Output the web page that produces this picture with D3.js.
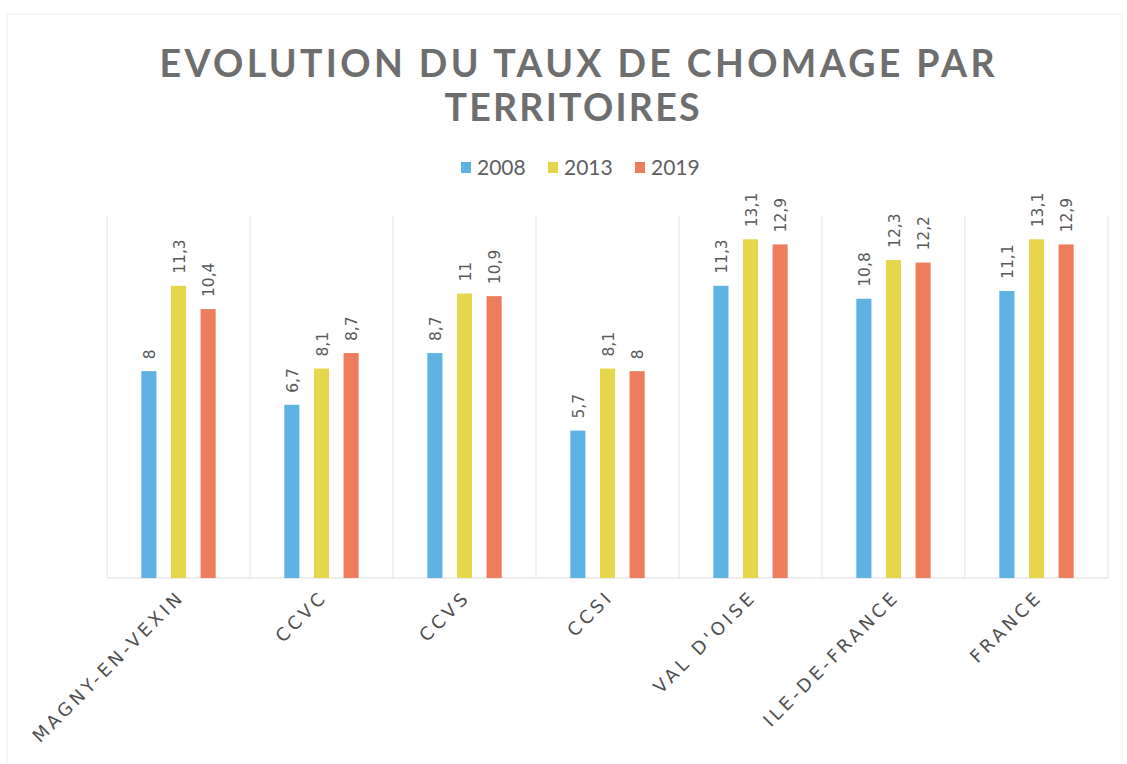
<!DOCTYPE html>
<html>
<head>
<meta charset="utf-8">
<script src="https://cdn.jsdelivr.net/npm/d3@7"></script>
<style>
  body { margin: 0; background: #fff; }
  svg { display: block; }
</style>
</head>
<body>
<div id="chart"></div>
<script>
// data
const territoires = ["MAGNY-EN-VEXIN", "CCVC", "CCVS", "CCSI", "VAL D'OISE", "ILE-DE-FRANCE", "FRANCE"];
const annees = ["2008", "2013", "2019"];
const taux2008 = [8, 6.7, 8.7, 5.7, 11.3, 10.8, 11.1];
const taux2013 = [11.3, 8.1, 11, 8.1, 13.1, 12.3, 13.1];
const taux2019 = [10.4, 8.7, 10.9, 8, 12.9, 12.2, 12.9];
const couleurs = ["#5fb3e2", "#e5d64c", "#ee7d5e"];

const W = 1127, H = 764;
const svg = d3.select("#chart").append("svg").attr("width", W).attr("height", H);

// faint frame of the scanned chart
svg.append("rect").attr("x", 7).attr("y", 14).attr("width", W - 12).attr("height", H - 10)
    .attr("fill", "none").attr("stroke", "#ececec");

let donnees = territoires.map((t, i) => ({ name: t, values: [taux2008[i], taux2013[i], taux2019[i]] }));

let x0 = d3.scaleBand().domain(territoires).range([107, 1108])
    .paddingInner(0.48).paddingOuter(0.24);
let x1 = d3.scaleBand().domain(annees).range([0, x0.bandwidth()])
    .paddingInner(0.49).paddingOuter(0);
let y = d3.scaleLinear().domain([0, 14]).range([578, 216]);
let color = d3.scaleOrdinal().domain(annees).range(couleurs);

// titre
svg.append("text")
    .attr("x", 577).attr("y", 77)
    .attr("text-anchor", "middle")
    .attr("font-family", "Lato, sans-serif").attr("font-weight", "bold")
    .attr("font-size", 37.5)
    .attr("textLength", 835).attr("lengthAdjust", "spacing")
    .attr("fill", "#6e6e6e")
    .text("EVOLUTION DU TAUX DE CHOMAGE PAR");
svg.append("text")
    .attr("x", 572).attr("y", 121)
    .attr("text-anchor", "middle")
    .attr("font-family", "Lato, sans-serif").attr("font-weight", "bold")
    .attr("font-size", 37.5)
    .attr("textLength", 255).attr("lengthAdjust", "spacing")
    .attr("fill", "#6e6e6e")
    .text("TERRITOIRES");

// legende
let leg = svg.append("g").selectAll("g").data(annees).enter().append("g")
    .attr("transform", (d, i) => "translate(" + (461 + i * 87) + ",168)");
leg.append("rect").attr("x", 0).attr("y", -6).attr("width", 10).attr("height", 11)
    .attr("fill", d => color(d));
leg.append("text").attr("x", 16).attr("y", 7)
    .attr("font-family", "Lato, sans-serif").attr("font-size", 21)
    .attr("fill", "#5f5f5f")
    .text(d => d);

// separateurs verticaux
let bords = territoires.map(t => x0(t) - x0.step() * x0.paddingInner() / 2);
bords.push(x0.range()[1]);
svg.append("g").selectAll("line").data(bords).enter().append("line")
    .attr("x1", d => d).attr("x2", d => d)
    .attr("y1", y(14)).attr("y2", y(0))
    .attr("stroke", "#e3e3e3").attr("stroke-width", 1);

// axe de base
svg.append("line")
    .attr("x1", x0.range()[0]).attr("x2", x0.range()[1])
    .attr("y1", y(0)).attr("y2", y(0))
    .attr("stroke", "#dcdcdc");

// barres
let groupes = svg.append("g").selectAll("g").data(donnees).enter().append("g")
    .attr("transform", d => "translate(" + x0(d.name) + ",0)");

groupes.selectAll("rect")
    .data(d => d.values.map((v, i) => ({ annee: annees[i], value: v })))
    .enter()
    .append("rect")
    .attr("x", d => x1(d.annee))
    .attr("y", d => y(d.value))
    .attr("width", x1.bandwidth())
    .attr("height", d => y(0) - y(d.value))
    .attr("fill", d => color(d.annee));

groupes.selectAll("text")
    .data(d => d.values.map((v, i) => ({ annee: annees[i], value: v })))
    .enter()
    .append("text")
    .attr("transform", d => "translate(" + (x1(d.annee) + x1.bandwidth() / 2 + 6) + "," + (y(d.value) - 12) + ") rotate(-90)")
    .attr("font-family", "'DejaVu Sans', sans-serif").attr("font-size", 15.5)
    .attr("fill", "#5a5a5a")
    .text(d => String(d.value).replace(".", ","));

// etiquettes des territoires
svg.append("g").selectAll("text").data(territoires).enter().append("text")
    .attr("transform", d => "translate(" + (x0(d) + x0.bandwidth() / 2 + 7) + ",598) rotate(-45)")
    .attr("text-anchor", "end")
    .attr("font-family", "'DejaVu Sans', sans-serif").attr("font-size", 18)
    .attr("letter-spacing", 3.6)
    .attr("fill", "#505050")
    .text(d => d);
</script>
</body>
</html>
